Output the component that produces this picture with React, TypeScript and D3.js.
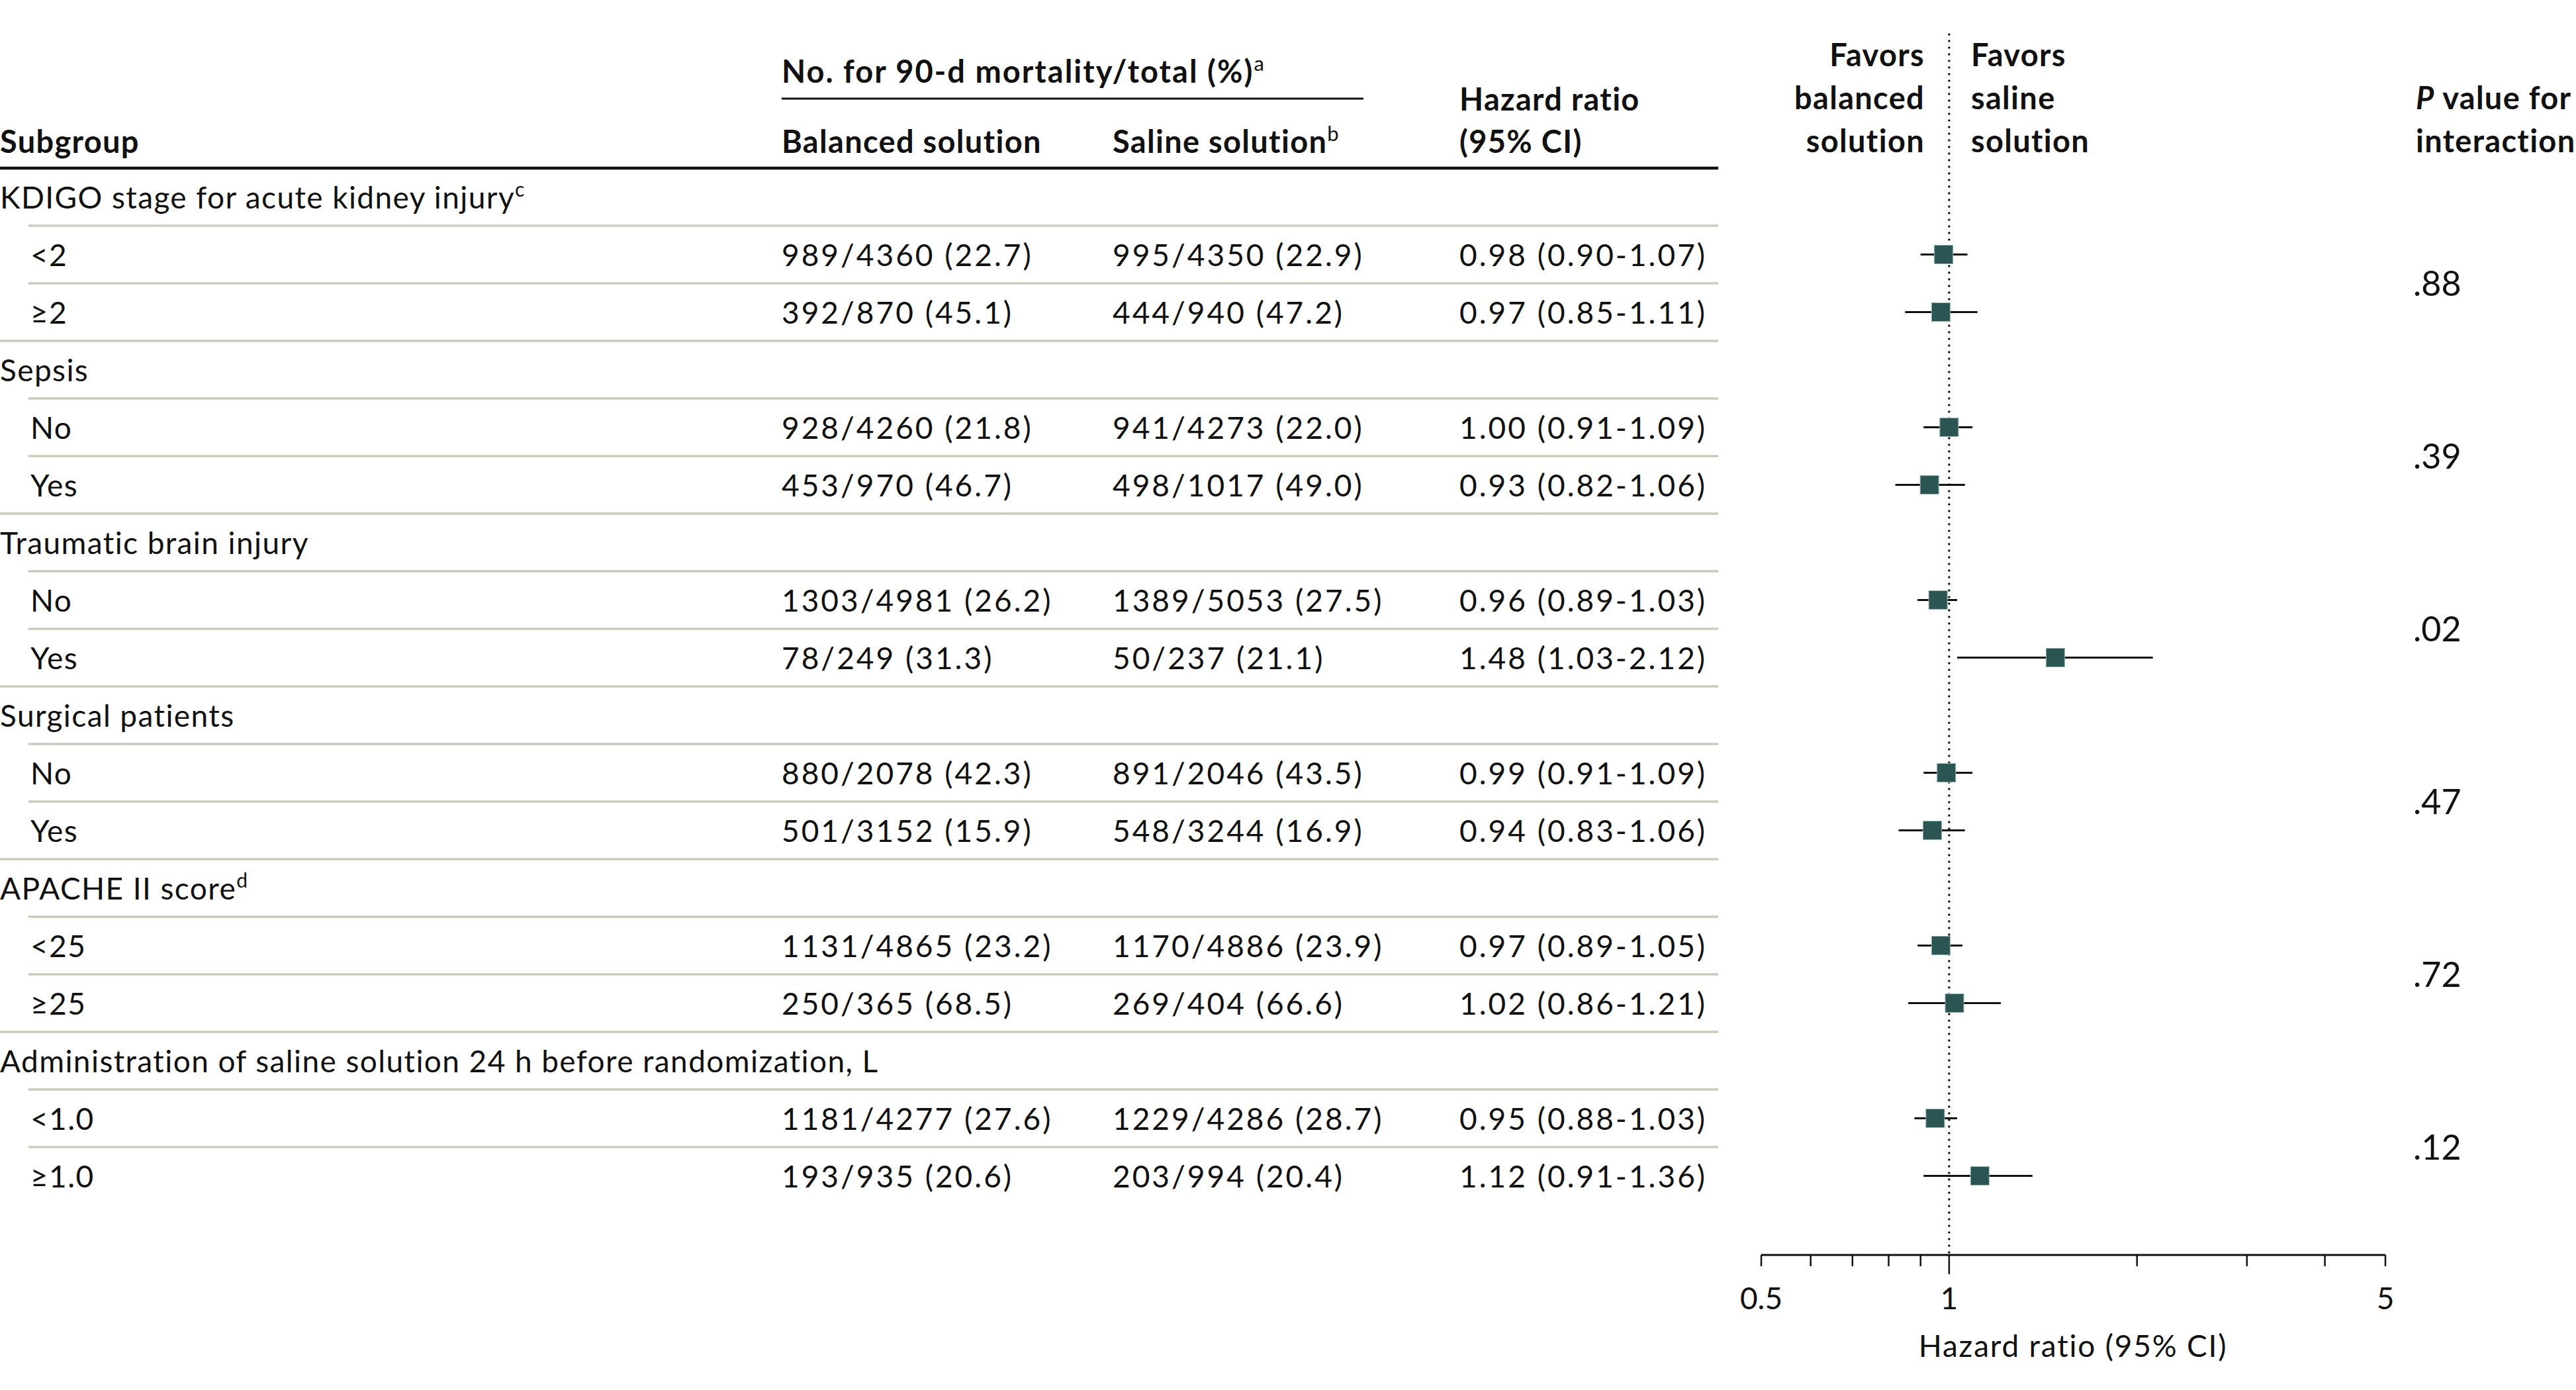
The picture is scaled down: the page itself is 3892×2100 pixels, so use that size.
import { scaleLinear, scaleLog } from "d3";

// Subgroup data (forest plot)
const groupLabels = [
  "KDIGO stage for acute kidney injury",
  "Sepsis",
  "Traumatic brain injury",
  "Surgical patients",
  "APACHE II score",
  "Administration of saline solution 24 h before randomization, L",
];
const groupNotes = ["c", "", "", "", "d", ""];
const subLabels = [
  ["<2", "≥2"],
  ["No", "Yes"],
  ["No", "Yes"],
  ["No", "Yes"],
  ["<25", "≥25"],
  ["<1.0", "≥1.0"],
];
const balanced = [
  ["989/4360 (22.7)", "392/870 (45.1)"],
  ["928/4260 (21.8)", "453/970 (46.7)"],
  ["1303/4981 (26.2)", "78/249 (31.3)"],
  ["880/2078 (42.3)", "501/3152 (15.9)"],
  ["1131/4865 (23.2)", "250/365 (68.5)"],
  ["1181/4277 (27.6)", "193/935 (20.6)"],
];
const saline = [
  ["995/4350 (22.9)", "444/940 (47.2)"],
  ["941/4273 (22.0)", "498/1017 (49.0)"],
  ["1389/5053 (27.5)", "50/237 (21.1)"],
  ["891/2046 (43.5)", "548/3244 (16.9)"],
  ["1170/4886 (23.9)", "269/404 (66.6)"],
  ["1229/4286 (28.7)", "203/994 (20.4)"],
];
const hr = [
  [0.98, 0.97],
  [1.0, 0.93],
  [0.96, 1.48],
  [0.99, 0.94],
  [0.97, 1.02],
  [0.95, 1.12],
];
const lower = [
  [0.9, 0.85],
  [0.91, 0.82],
  [0.89, 1.03],
  [0.91, 0.83],
  [0.89, 0.86],
  [0.88, 0.91],
];
const upper = [
  [1.07, 1.11],
  [1.09, 1.06],
  [1.03, 2.12],
  [1.09, 1.06],
  [1.05, 1.21],
  [1.03, 1.36],
];
const pValues = [".88", ".39", ".02", ".47", ".72", ".12"];
const axisTicks = [0.5, 0.6, 0.7, 0.8, 0.9, 1, 2, 3, 4, 5];
const axisLabels = [0.5, 1, 5];

const FONT = "Lato, 'Open Sans', sans-serif";
const INK = "#111";
const RULE = "#c8ccbb";
const BOX = "#2b5553";

const fmt = (v: number) => v.toFixed(2);

export default function App() {
  const width = 3892;
  const height = 2100;
  const tableRight = 2596;
  const col = { label: 0, indent: 46, bal: 1181, sal: 1681, hr: 2205, p: 3646 };
  const fs = 46;
  const fsHead = 47;
  const lsText = 1.4;
  const lsNum = 3;

  const nRows = groupLabels.length * 3;
  const y = scaleLinear().domain([0, nRows]).range([254, 254 + nRows * 87]);
  const x = scaleLog().domain([0.5, 5]).range([2661, 3604]);
  const axisY = 1896;

  const rows: JSX.Element[] = [];
  groupLabels.forEach((g, gi) => {
    const r0 = gi * 3;
    rows.push(
      <text
        key={`g${gi}`}
        x={col.label}
        y={y(r0 + 0.5) + 17}
        fontSize={fs}
        fill={INK}
        letterSpacing={lsText}
      >
        {g}
        {groupNotes[gi] && (
          <tspan fontSize={30} dy={-18}>
            {groupNotes[gi]}
          </tspan>
        )}
      </text>
    );
    // rules under group header and between subrows
    [1, 2].forEach((k) =>
      rows.push(
        <line
          key={`r${gi}-${k}`}
          x1={43}
          x2={tableRight}
          y1={y(r0 + k)}
          y2={y(r0 + k)}
          stroke={RULE}
          strokeWidth={3.5}
        />
      )
    );
    if (gi < groupLabels.length - 1) {
      rows.push(
        <line
          key={`e${gi}`}
          x1={0}
          x2={tableRight}
          y1={y(r0 + 3)}
          y2={y(r0 + 3)}
          stroke={RULE}
          strokeWidth={3.5}
        />
      );
    }
    subLabels[gi].forEach((s, si) => {
      const r = r0 + 1 + si;
      const cy = y(r + 0.5);
      const est = hr[gi][si];
      const lo = lower[gi][si];
      const hi = upper[gi][si];
      rows.push(
        <g key={`s${gi}-${si}`} fontSize={fs} fill={INK}>
          <text x={col.indent} y={cy + 17} letterSpacing={lsText}>{s}</text>
          <text x={col.bal} y={cy + 17} letterSpacing={lsNum}>{balanced[gi][si]}</text>
          <text x={col.sal} y={cy + 17} letterSpacing={lsNum}>{saline[gi][si]}</text>
          <text x={col.hr} y={cy + 17} letterSpacing={lsNum}>
            {`${fmt(est)} (${fmt(lo)}-${fmt(hi)})`}
          </text>
          <line x1={x(lo)} x2={x(hi)} y1={cy} y2={cy} stroke={INK} strokeWidth={3} />
          <rect
            x={x(est) - 14}
            y={cy - 14}
            width={28}
            height={28}
            fill={BOX}
            stroke="#8fb3ae"
            strokeWidth={1}
          />
        </g>
      );
    });
    rows.push(
      <text key={`p${gi}`} x={col.p} y={y(r0 + 2) + 19} fontSize={52} fill={INK}>
        {pValues[gi]}
      </text>
    );
  });

  return (
    <svg
      width={width}
      height={height}
      viewBox={`0 0 ${width} ${height}`}
      style={{ position: "absolute", left: 0, top: 0, background: "#fff" }}
      fontFamily={FONT}
    >
      <rect width={width} height={height} fill="#fff" />

      {/* Column headers */}
      <g fontSize={fsHead} fontWeight={700} fill={INK} letterSpacing={1.3}>
        <text x={col.bal} y={125} letterSpacing={2}>
          No. for 90-d mortality/total (%)
          <tspan fontSize={31} fontWeight={400} dy={-18}>a</tspan>
        </text>
        <text x={col.label} y={231}>Subgroup</text>
        <text x={col.bal} y={231}>Balanced solution</text>
        <text x={col.sal} y={231}>
          Saline solution
          <tspan fontSize={31} fontWeight={400} dy={-18}>b</tspan>
        </text>
        <text x={col.hr} y={167}>Hazard ratio</text>
        <text x={col.hr} y={231}>(95% CI)</text>
        <text x={2908} y={100} textAnchor="end">Favors</text>
        <text x={2908} y={165} textAnchor="end">balanced</text>
        <text x={2908} y={230} textAnchor="end">solution</text>
        <text x={2978} y={100}>Favors</text>
        <text x={2978} y={165}>saline</text>
        <text x={2978} y={230}>solution</text>
        <text x={3650} y={165}>
          <tspan fontStyle="italic">P</tspan> value for
        </text>
        <text x={3650} y={230}>interaction</text>
      </g>
      <line x1={col.bal} x2={2060} y1={149} y2={149} stroke={INK} strokeWidth={3} />
      <line x1={0} x2={tableRight} y1={254} y2={254} stroke={INK} strokeWidth={4.5} />

      {/* Null line */}
      <line
        x1={x(1)}
        x2={x(1)}
        y1={52}
        y2={axisY}
        stroke={INK}
        strokeWidth={3.5}
        strokeDasharray="0 10"
        strokeLinecap="round"
      />

      {rows}

      {/* Axis */}
      <line x1={x(0.5)} x2={x(5)} y1={axisY} y2={axisY} stroke={INK} strokeWidth={3} />
      {axisTicks.map((t) => (
        <line
          key={t}
          x1={x(t)}
          x2={x(t)}
          y1={axisY}
          y2={t === 1 ? 1925 : 1913}
          stroke={INK}
          strokeWidth={2.5}
        />
      ))}
      {axisLabels.map((t) => (
        <text key={t} x={x(t)} y={1978} textAnchor="middle" fontSize={fs} fill={INK}>
          {t}
        </text>
      ))}
      <text
        x={3132}
        y={2050}
        textAnchor="middle"
        fontSize={fs}
        fill={INK}
        letterSpacing={1.8}
      >
        Hazard ratio (95% CI)
      </text>
    </svg>
  );
}
